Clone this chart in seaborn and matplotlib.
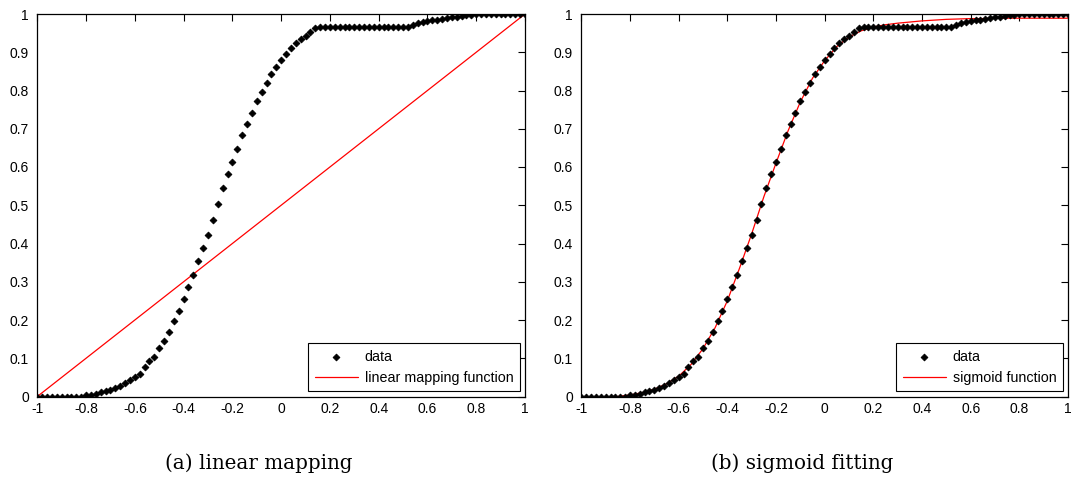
import numpy as np
import pandas as pd
import matplotlib
matplotlib.use("Agg")
import matplotlib.pyplot as plt
import seaborn as sns

# ---- data ----
x_data = np.round(np.linspace(-1.0, 1.0, 101), 2)
y_data = [
    0, 0, 0, 0, 0, 0, 0, 0, 0, 0,
    0.003, 0.005, 0.007, 0.011, 0.014, 0.018, 0.023, 0.028, 0.035, 0.042,
    0.051, 0.060, 0.078, 0.092, 0.104, 0.126, 0.146, 0.168, 0.197, 0.223,
    0.254, 0.285, 0.318, 0.354, 0.387, 0.421, 0.461, 0.504, 0.544, 0.581,
    0.612, 0.648, 0.683, 0.712, 0.741, 0.772, 0.797, 0.820, 0.844, 0.862,
    0.880, 0.896, 0.910, 0.924, 0.934, 0.942, 0.953, 0.964, 0.967,
    0.967, 0.967, 0.967, 0.967, 0.967, 0.967, 0.967, 0.967, 0.967,
    0.967, 0.967, 0.967, 0.967, 0.967, 0.967, 0.967, 0.967, 0.967,
    0.972, 0.977, 0.980, 0.982, 0.984, 0.985, 0.987, 0.989, 0.991,
    0.993, 0.995, 0.997, 0.998, 0.999,
    1.0, 1.0, 1.0, 1.0, 1.0, 1.0, 1.0, 1.0, 1.0, 1.0,
]

x_linear = [-1.0, 1.0]
y_linear = [0.0, 1.0]

x_sig = [-0.85, -0.80, -0.75, -0.70, -0.65, -0.60, -0.55, -0.50, -0.45, -0.40,
         -0.35, -0.30, -0.25, -0.20, -0.15, -0.10, -0.05, 0.00, 0.05, 0.10,
         0.15, 0.20, 0.25, 0.30, 0.35, 0.40, 0.45, 0.50, 0.55, 0.60,
         0.65, 0.70, 0.80, 0.90, 1.00]
y_sig = [0.000, 0.004, 0.010, 0.019, 0.033, 0.053, 0.083, 0.125, 0.180, 0.250,
         0.335, 0.425, 0.522, 0.610, 0.695, 0.770, 0.832, 0.878, 0.915, 0.940,
         0.956, 0.966, 0.972, 0.976, 0.979, 0.982, 0.984, 0.986, 0.987, 0.988,
         0.988, 0.989, 0.989, 0.989, 0.989]

x_ticks = [-1, -0.8, -0.6, -0.4, -0.2, 0, 0.2, 0.4, 0.6, 0.8, 1]
x_tick_labels = ["-1", "-0.8", "-0.6", "-0.4", "-0.2", "0", "0.2", "0.4", "0.6", "0.8", "1"]
y_ticks = [0, 0.1, 0.2, 0.3, 0.4, 0.5, 0.6, 0.7, 0.8, 0.9, 1]
y_tick_labels = ["0", "0.1", "0.2", "0.3", "0.4", "0.5", "0.6", "0.7", "0.8", "0.9", "1"]

captions = ["(a) linear mapping", "(b) sigmoid fitting"]
line_labels = ["linear mapping function", "sigmoid function"]

sns.set_theme(style="white")
plt.rcParams["font.family"] = ["Liberation Sans", "DejaVu Sans"]
plt.rcParams["text.color"] = "black"
plt.rcParams["xtick.color"] = "black"
plt.rcParams["ytick.color"] = "black"

df_data = pd.DataFrame({"x": x_data, "y": y_data})
df_lin = pd.DataFrame({"x": x_linear, "y": y_linear})
df_sig = pd.DataFrame({"x": x_sig, "y": y_sig})

fig = plt.figure(figsize=(10.71, 4.80), dpi=100)
W, H = 1071, 480
ax_boxes = [(37.3, 525.0), (581.3, 1068.0)]
top_px, bot_px = 14.0, 396.5

for i, (l, r) in enumerate(ax_boxes):
    ax = fig.add_axes([l / W, 1 - bot_px / H, (r - l) / W, (bot_px - top_px) / H])
    sns.scatterplot(data=df_data, x="x", y="y", ax=ax, marker="D", s=12,
                    color="black", edgecolor="black", linewidth=0.6,
                    label="data", zorder=3)
    df_line = df_lin if i == 0 else df_sig
    sns.lineplot(data=df_line, x="x", y="y", ax=ax, color="red", linewidth=0.9,
                 label=line_labels[i], zorder=2, sort=False)
    ax.set_xlim(-1, 1)
    ax.set_ylim(0, 1)
    ax.set_xticks(x_ticks)
    ax.set_xticklabels(x_tick_labels)
    ax.set_yticks(y_ticks)
    ax.set_yticklabels(y_tick_labels)
    ax.set_xlabel("")
    ax.set_ylabel("")
    ax.tick_params(direction="in", length=5, width=0.8, top=True, right=True,
                   labelsize=10, colors="black", pad=4)
    ax.tick_params(axis="y", pad=6)
    for sp in ax.spines.values():
        sp.set_visible(True)
        sp.set_color("black")
        sp.set_linewidth(0.9)
    leg = ax.legend(loc="lower right", fontsize=10.3, frameon=True, fancybox=False,
                    framealpha=1, edgecolor="black", handlelength=3.0,
                    borderpad=0.45, labelspacing=0.5, borderaxespad=0.35,
                    handletextpad=0.5)
    leg.get_frame().set_linewidth(0.8)
    for t in leg.get_texts():
        t.set_color("black")
    cx = (l + r) / 2 - 22
    fig.text(cx / W, 1 - 463 / H, captions[i], ha="center", va="center",
             fontsize=14.3, family=["DejaVu Serif"], color="black")

fig.savefig("out.png", dpi=100, facecolor="white")
